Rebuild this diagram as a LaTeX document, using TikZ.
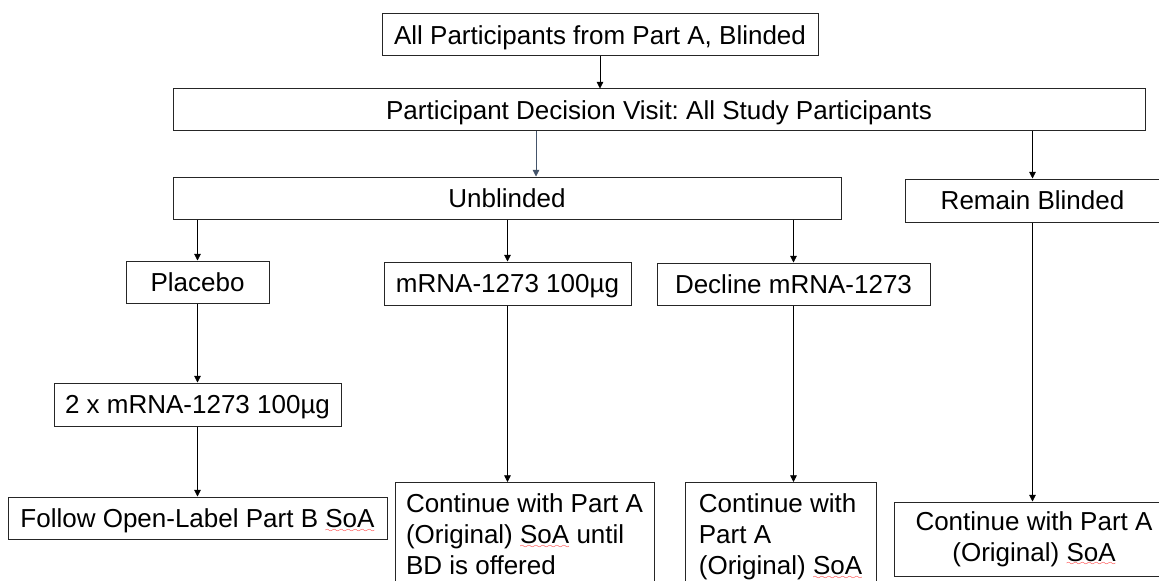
\documentclass[tikz,border=0pt]{standalone}
\usepackage{fontspec}
\setmainfont{Liberation Sans}
\usetikzlibrary{arrows.meta}
\definecolor{slate}{RGB}{68,84,106}
\font\wavefont=lasy6
\newsavebox\spellbox
\newcommand\spellerr[1]{\sbox\spellbox{#1}\rlap{\textcolor{red}{\lower3.5pt\hbox to\wd\spellbox{\xleaders\hbox{\wavefont\char58}\hfil}}}\usebox\spellbox}

\begin{document}
\frenchspacing
\begin{tikzpicture}[x=.75pt,y=-.75pt,
  box/.style={draw=black!85,line width=.75pt,inner sep=0pt,font=\fontsize{19.5}{23.25}\selectfont},
  onebox/.style={box,text height=14pt,text depth=0pt},
  tallbox/.style={box,anchor=north,align=left,inner xsep=8.25pt,inner ysep=8.5pt},
  arr/.style={-{Triangle[length=5pt,width=5pt]},line width=.6pt}]
\useasboundingbox (0,0) rectangle (1159,581);
\clip (0,0) rectangle (1159,581);
% top rows
\node[onebox,minimum width=327pt,minimum height=31.5pt] (all) at (600,35) {All Participants from Part A, Blinded};
\node[onebox,minimum width=729pt,minimum height=31.5pt] (dec) at (659,110) {Participant Decision Visit: All Study Participants};
\node[onebox,minimum width=501pt,minimum height=31.5pt] (unbl) at (507,198) {Unblinded};
\node[onebox,minimum width=190.5pt,minimum height=32.25pt] (remain) at (1032.5,200.5) {Remain Blinded};
% arms
\node[onebox,minimum width=107.25pt,minimum height=31.5pt] (placebo) at (197.5,282) {Placebo};
\node[onebox,minimum width=185.25pt,minimum height=32.25pt] (mrna) at (507.5,283.5) {mRNA-1273 100µg};
\node[onebox,minimum width=204.75pt,minimum height=31.5pt] (decline) at (793.5,284) {Decline mRNA-1273};
\node[onebox,minimum width=215.25pt,minimum height=32.25pt] (two) at (197.5,404.5) {2 x mRNA-1273 100µg};
% bottom row
\node[onebox,minimum width=284.25pt,minimum height=31.5pt] (follow) at (197.5,518) {Follow Open-Label Part B \spellerr{SoA}};
\node[tallbox,minimum width=192.75pt] (contbd) at (524.5,482) {Continue with Part A\\(Original) \spellerr{SoA} until\\BD is offered};
\node[tallbox,minimum width=143.25pt] (contmid) at (780.5,482) {Continue with\\Part A\\(Original) \spellerr{SoA}};
\node[box,align=center,minimum width=210pt,minimum height=55.5pt] (contright) at (1034,539) {Continue with Part A\\(Original) \spellerr{SoA}};
% arrows
\coordinate (unblin) at ([xshift=21.75pt]unbl.north);
\draw[arr] (all.south) -- (all.south |- dec.north);
\draw[arr,slate] (unblin |- dec.south) -- (unblin);
\draw[arr] (remain |- dec.south) -- (remain.north);
\draw[arr] (placebo |- unbl.south) -- (placebo.north);
\draw[arr] (mrna |- unbl.south) -- (mrna.north);
\draw[arr] (decline |- unbl.south) -- (decline.north);
\draw[arr] (placebo.south) -- (two.north);
\draw[arr] (two.south) -- (follow.north);
\draw[arr] (mrna.south) -- (mrna.south |- contbd.north);
\draw[arr] (decline.south) -- (decline.south |- contmid.north);
\draw[arr] (remain.south) -- (remain.south |- contright.north);
\end{tikzpicture}
\end{document}
